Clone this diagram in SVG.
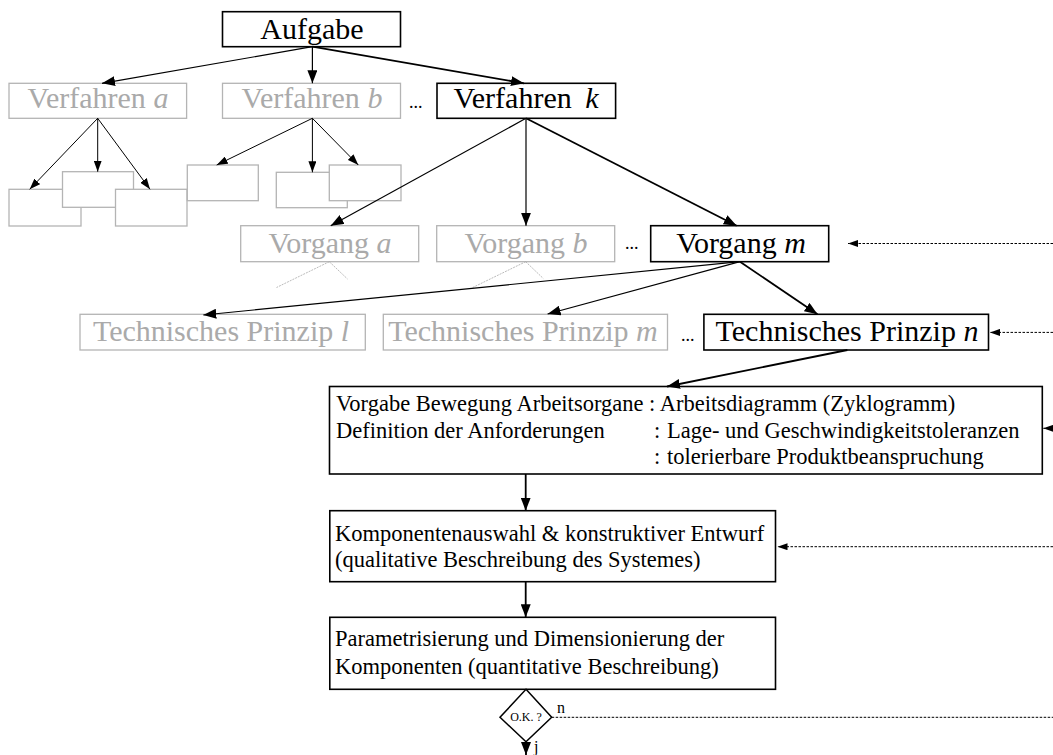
<svg xmlns="http://www.w3.org/2000/svg" width="1053" height="755" viewBox="0 0 1053 755">
  <style>
    text { font-family: "Liberation Serif", "Times New Roman", serif; fill: #000; }
    .big { font-size: 30px; }
    .mid { font-size: 22.5px; }
    .gray { fill: #aaaaaa; }
    .it { font-style: italic; }
    .box { fill: #fff; stroke: #000; stroke-width: 1.6; }
    .gbox { fill: #fff; stroke: #b4b4b4; stroke-width: 1.3; }
    .thin { fill: none; stroke: #000; stroke-width: 1.2; }
    .thick { fill: none; stroke: #000; stroke-width: 1.8; }
    .fine { fill: none; stroke: #000; stroke-width: 1; }
    .dot { fill: none; stroke: #000; stroke-width: 1; stroke-dasharray: 2.5 1.5; }
    .gdot { fill: none; stroke: #aaaaaa; stroke-width: 0.8; stroke-dasharray: 2 1; }
  </style>
  <defs>
    <marker id="ah" markerUnits="userSpaceOnUse" markerWidth="14" markerHeight="10" refX="13" refY="5" orient="auto">
      <path d="M0,0 L13,5 L0,10 Z" fill="#000"/>
    </marker>
    <marker id="ahs" markerUnits="userSpaceOnUse" markerWidth="12" markerHeight="8" refX="11" refY="4" orient="auto">
      <path d="M0,0 L11,4 L0,8 Z" fill="#000"/>
    </marker>
    <marker id="ahd" markerUnits="userSpaceOnUse" markerWidth="11" markerHeight="7" refX="10" refY="3.5" orient="auto">
      <path d="M0,0 L10,3.5 L0,7 Z" fill="#000"/>
    </marker>
  </defs>

  <!-- top task -->
  <g id="aufgabe">
    <rect class="box" x="222.5" y="11.7" width="178" height="35"/>
    <text class="big" x="312" y="39.3" text-anchor="middle">Aufgabe</text>
  </g>

  <!-- procedures -->
  <g id="verfahren-a">
    <rect class="gbox" x="9" y="83.3" width="177.6" height="35"/>
    <text class="big gray" x="98" y="108.3" text-anchor="middle">Verfahren <tspan class="it">a</tspan></text>
  </g>
  <g id="verfahren-b">
    <rect class="gbox" x="222.5" y="83.3" width="178" height="35"/>
    <text class="big gray" x="312" y="108.3" text-anchor="middle">Verfahren <tspan class="it">b</tspan></text>
  </g>
  <text id="dots-1" x="409" y="108.3" font-size="18">...</text>
  <g id="verfahren-k">
    <rect class="box" x="437" y="83.3" width="178.6" height="35"/>
    <text class="big" x="526" y="108.3" text-anchor="middle">Verfahren <tspan class="it" dx="6">k</tspan></text>
  </g>

  <!-- unlabeled sub-boxes -->
  <g id="sub-a1"><rect class="gbox" x="9" y="189.3" width="72" height="36.7"/></g>
  <g id="sub-a2"><rect class="gbox" x="62.5" y="171.7" width="71" height="35.6"/></g>
  <g id="sub-a3"><rect class="gbox" x="115.5" y="189.3" width="71.5" height="36.7"/></g>
  <g id="sub-b1"><rect class="gbox" x="187.3" y="165" width="71" height="35.7"/></g>
  <g id="sub-b2"><rect class="gbox" x="276.3" y="172.3" width="71" height="35.4"/></g>
  <g id="sub-b3"><rect class="gbox" x="329.3" y="165" width="71.7" height="35.7"/></g>

  <!-- operations -->
  <g id="vorgang-a">
    <rect class="gbox" x="240.7" y="225.7" width="178" height="36"/>
    <text class="big gray" x="330" y="253" text-anchor="middle">Vorgang <tspan class="it">a</tspan></text>
  </g>
  <g id="vorgang-b">
    <rect class="gbox" x="436.7" y="225.7" width="178" height="36"/>
    <text class="big gray" x="526" y="253" text-anchor="middle">Vorgang <tspan class="it">b</tspan></text>
  </g>
  <text id="dots-2" x="625" y="249" font-size="18">...</text>
  <g id="vorgang-m">
    <rect class="box" x="650.7" y="225.7" width="178" height="36"/>
    <text class="big" x="741" y="253" text-anchor="middle">Vorgang <tspan class="it">m</tspan></text>
  </g>

  <!-- technical principles -->
  <g id="prinzip-l">
    <rect class="gbox" x="80" y="314.3" width="285.3" height="35.7"/>
    <text class="big gray" x="221" y="340.7" text-anchor="middle">Technisches Prinzip <tspan class="it">l</tspan></text>
  </g>
  <g id="prinzip-m">
    <rect class="gbox" x="383.3" y="314.3" width="284.2" height="35.7"/>
    <text class="big gray" x="523" y="340.7" text-anchor="middle">Technisches Prinzip <tspan class="it">m</tspan></text>
  </g>
  <text id="dots-3" x="681" y="340.7" font-size="18">...</text>
  <g id="prinzip-n">
    <rect class="box" x="703.9" y="314.3" width="284.6" height="35.7"/>
    <text class="big" x="847" y="340.7" text-anchor="middle">Technisches Prinzip <tspan class="it">n</tspan></text>
  </g>

  <!-- requirements -->
  <g id="vorgabe">
    <rect class="box" x="329.5" y="386.5" width="712.8" height="87.5"/>
    <text class="mid" x="336" y="411">Vorgabe Bewegung Arbeitsorgane : Arbeitsdiagramm (Zyklogramm)</text>
    <text class="mid" x="336" y="437.5">Definition der Anforderungen</text>
    <text class="mid" x="654" y="437.5">:</text>
    <text class="mid" x="667" y="437.5">Lage- und Geschwindigkeitstoleranzen</text>
    <text class="mid" x="654" y="463.5">:</text>
    <text class="mid" x="667" y="463.5">tolerierbare Produktbeanspruchung</text>
  </g>

  <!-- component selection -->
  <g id="entwurf">
    <rect class="box" x="329.8" y="510.7" width="445.7" height="71"/>
    <text class="mid" x="335" y="540.7">Komponentenauswahl &amp; konstruktiver Entwurf</text>
    <text class="mid" x="335" y="567.3">(qualitative Beschreibung des Systemes)</text>
  </g>

  <!-- dimensioning -->
  <g id="dimensionierung">
    <rect class="box" x="329.8" y="617.3" width="445.7" height="72"/>
    <text class="mid" x="335" y="646">Parametrisierung und Dimensionierung der</text>
    <text class="mid" x="335" y="674">Komponenten (quantitative Beschreibung)</text>
  </g>

  <!-- decision -->
  <g id="ok">
    <path d="M526,689.3 L551.7,717.3 L526,741.7 L500,717.3 Z" fill="#fff" stroke="#000" stroke-width="1.5"/>
    <text x="526" y="721" font-size="12" text-anchor="middle">O.K. ?</text>
    <text x="557" y="712.7" font-size="16">n</text>
    <text x="534" y="752" font-size="16">j</text>
  </g>

  <g id="connectors">
    <!-- task to procedures -->
    <path class="thin" d="M312.4,46.7 L102,83.3" marker-end="url(#ah)"/>
    <path class="thin" d="M312.4,46.7 L312.4,83.3" marker-end="url(#ah)"/>
    <path class="thick" d="M312.4,46.7 L524,83.3" marker-end="url(#ah)"/>
    <!-- procedure a/b to sub-boxes -->
    <path class="fine" d="M97.7,118.3 L29.7,189.3" marker-end="url(#ahs)"/>
    <path class="fine" d="M97.7,118.3 L97.7,171.7" marker-end="url(#ahs)"/>
    <path class="fine" d="M97.7,118.3 L150,189.3" marker-end="url(#ahs)"/>
    <path class="fine" d="M312.4,118.3 L216.7,165" marker-end="url(#ahs)"/>
    <path class="fine" d="M312.4,118.3 L312.4,172.3" marker-end="url(#ahs)"/>
    <path class="fine" d="M312.4,118.3 L358.3,165" marker-end="url(#ahs)"/>
    <!-- procedure k to operations -->
    <path class="thin" d="M526,118.3 L330.7,225.7" marker-end="url(#ah)"/>
    <path class="thin" d="M526,118.3 L526,225.7" marker-end="url(#ah)"/>
    <path class="thick" d="M526,118.3 L736.7,225.7" marker-end="url(#ah)"/>
    <!-- faded branches below operations a/b -->
    <path class="gdot" d="M329.3,261.7 L276.5,287.5 M329.3,261.7 L347.5,279"/>
    <path class="gdot" d="M525.7,261.7 L472.7,287.5 M525.7,261.7 L543.3,278.5"/>
    <!-- operation m to principles -->
    <path class="thin" d="M740,261.7 L203.3,315" marker-end="url(#ah)"/>
    <path class="thin" d="M740,261.7 L547.6,314" marker-end="url(#ah)"/>
    <path class="thick" d="M740,261.7 L817.5,314.3" marker-end="url(#ah)"/>
    <!-- principle n to requirements and down the chain -->
    <path class="thick" d="M847.4,350 L667,386.5" marker-end="url(#ah)"/>
    <path class="thick" d="M525.7,474 L525.7,510.7" marker-end="url(#ah)"/>
    <path class="thick" d="M525.7,581.7 L525.7,617.3" marker-end="url(#ah)"/>
    <path class="thick" d="M526,741.7 L526,755" marker-end="url(#ah)"/>
    <!-- feedback lines -->
    <path class="dot" d="M1053,243.5 L848,243.5" marker-end="url(#ahd)"/>
    <path class="dot" d="M1053,332.4 L990,332.4" marker-end="url(#ahd)"/>
    <path class="dot" d="M1053,428.3 L1043.3,428.3" marker-end="url(#ahd)"/>
    <path class="dot" d="M1053,546.7 L777.5,546.7" marker-end="url(#ahd)"/>
    <path class="dot" d="M551.7,717.3 L1053,717.3"/>
  </g>
</svg>
